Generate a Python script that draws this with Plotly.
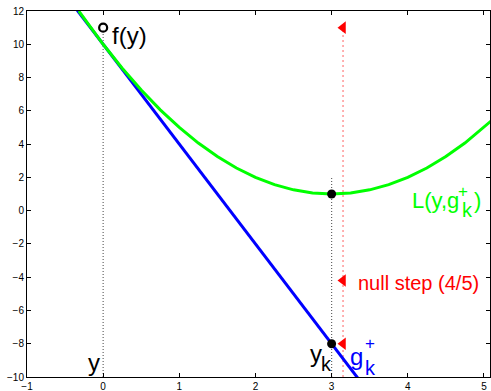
import plotly.graph_objects as go

# Data
model_x = [-0.32, -0.25, 0.0, 0.25, 0.5, 0.75, 1.0, 1.25, 1.5, 1.75, 2.0, 2.25, 2.5, 2.75, 3.0,
           3.25, 3.5, 3.75, 4.0, 4.25, 4.5, 4.75, 5.0, 5.1]
model_y = [12.0, 11.56, 10.0, 8.56, 7.25, 6.06, 5.0, 4.06, 3.25, 2.56, 2.0, 1.56, 1.25, 1.06, 1.0,
           1.06, 1.25, 1.56, 2.0, 2.56, 3.25, 4.06, 5.0, 5.41]
cut_x = [-0.34, 3.4]
cut_y = [12.04, -10.4]
fy_point = (0.0, 11.0)
center_point = (3.0, 1.0)
yk_point = (3.0, -8.0)
step_x = 3.15
step_y = [11.0, -4.2, -8.0]
x_ticks = [-1, 0, 1, 2, 3, 4, 5]
y_ticks = [-10, -8, -6, -4, -2, 0, 2, 4, 6, 8, 10, 12]

FONT = "Liberation Sans Narrow, Arial Narrow, Liberation Sans, Arial, sans-serif"
GREEN = "#00ff00"
BLUE = "#0000ff"
RED = "#ff0000"

fig = go.Figure()

# vertical guides
fig.add_trace(go.Scatter(x=[fy_point[0], fy_point[0]], y=[-10, fy_point[1]], mode="lines",
                         line=dict(color="#666666", width=1.2, dash="1px,2px"), hoverinfo="skip"))
fig.add_trace(go.Scatter(x=[center_point[0], center_point[0]], y=[-10, 2], mode="lines",
                         line=dict(color="#666666", width=1.2, dash="1px,2px"), hoverinfo="skip"))
fig.add_trace(go.Scatter(x=[step_x, step_x], y=[-10, step_y[0]], mode="lines",
                         line=dict(color="rgba(255,80,80,0.75)", width=1.2, dash="2px,3px"), hoverinfo="skip"))

# cut and model
fig.add_trace(go.Scatter(x=cut_x, y=cut_y, mode="lines", line=dict(color=BLUE, width=3)))
fig.add_trace(go.Scatter(x=model_x, y=model_y, mode="lines", line=dict(color=GREEN, width=3)))

# markers
fig.add_trace(go.Scatter(x=[fy_point[0]], y=[fy_point[1]], mode="markers",
                         marker=dict(symbol="circle", size=8, color="white", line=dict(color="black", width=2.2))))
fig.add_trace(go.Scatter(x=[center_point[0], yk_point[0]], y=[center_point[1], yk_point[1]], mode="markers",
                         marker=dict(symbol="circle", size=9, color="black")))
fig.add_trace(go.Scatter(x=[step_x] * len(step_y), y=step_y, mode="markers",
                         marker=dict(symbol="triangle-left", size=11, color=RED)))

def ann(text, x, y, size, color="black", xanchor="center"):
    fig.add_annotation(x=x, y=y, xref="x", yref="y", text=text, showarrow=False,
                       font=dict(family=FONT, size=size, color=color),
                       xanchor=xanchor, yanchor="middle")

ann("f(y)", 0.09, 10.5, 24, xanchor="left")
ann("y", -0.12, -9.13, 24)
ann("y", 2.80, -8.59, 24)
ann("k", 2.93, -9.19, 20)
ann("g", 3.33, -8.77, 24, BLUE)
ann("+", 3.51, -8.01, 17, BLUE)
ann("k", 3.51, -9.45, 20, BLUE)
ann("L(y,g", 4.03, 0.58, 22, GREEN, xanchor="left")
ann("+", 4.72, 1.15, 17, GREEN)
ann("k", 4.78, 0.01, 20, GREEN)
ann(")", 4.91, 0.58, 22, GREEN)
ann("null step (4/5)", 3.32, -4.32, 20, RED, xanchor="left")

axis_common = dict(showline=True, linecolor="black", linewidth=1, mirror="ticks",
                   ticks="inside", ticklen=4, tickcolor="black", showgrid=False, zeroline=False,
                   automargin=False,
                   tickfont=dict(family="Liberation Sans, Arial, sans-serif", size=10, color="black"))

fig.update_xaxes(range=[-1, 5.08], tickvals=x_ticks, ticktext=[str(v).replace("-", "\u2212") for v in x_ticks],
                 **axis_common)
fig.update_yaxes(range=[-10, 12], tickvals=y_ticks, ticktext=[str(v).replace("-", "\u2212") for v in y_ticks],
                 **axis_common)

fig.update_layout(width=491, height=391, showlegend=False,
                  margin=dict(l=27, r=1, t=11, b=14),
                  paper_bgcolor="white", plot_bgcolor="white")

fig.write_html("out.html", config={"displayModeBar": False},
               post_script="document.body.style.margin='0';document.body.style.overflow='hidden';")
